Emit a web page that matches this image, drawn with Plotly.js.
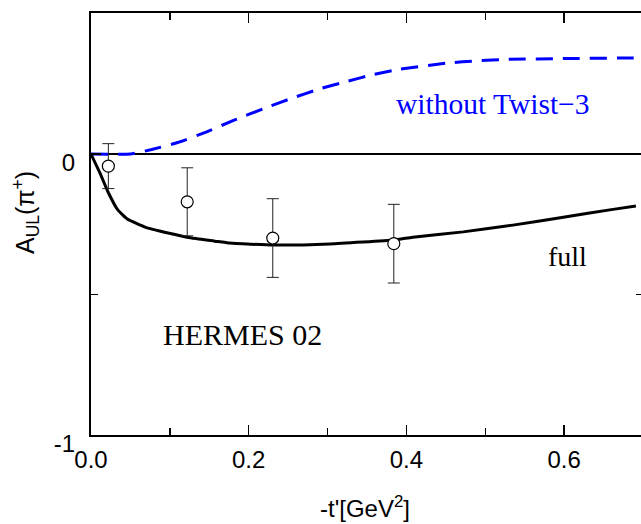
<!DOCTYPE html>
<html>
<head>
<meta charset="utf-8">
<script src="https://cdn.plot.ly/plotly-3.0.1.min.js"></script>
<style>html,body{margin:0;padding:0;overflow:hidden;background:#fff;}</style>
</head>
<body>
<div id="chart"></div>
<script>
// Curve "without Twist-3" (blue dashed)
const twistX = [0, 0.05, 0.077, 0.110, 0.145, 0.180, 0.223, 0.256, 0.290, 0.325, 0.358, 0.392, 0.452, 0.490, 0.528, 0.604, 0.688, 0.70];
const twistY = [0, 0, 0.016, 0.041, 0.077, 0.119, 0.166, 0.200, 0.232, 0.259, 0.283, 0.302, 0.324, 0.332, 0.337, 0.340, 0.342, 0.342];
// Curve "full" (black solid)
const fullX = [0, 0.0114, 0.0216, 0.034, 0.046, 0.0685, 0.0977, 0.128, 0.157, 0.176, 0.231, 0.303, 0.384, 0.408, 0.472, 0.535, 0.599, 0.662, 0.691];
const fullY = [0, -0.068, -0.135, -0.199, -0.231, -0.260, -0.281, -0.299, -0.310, -0.317, -0.324, -0.320, -0.306, -0.296, -0.277, -0.253, -0.225, -0.197, -0.185];
// HERMES 02 data
const hermesX = [0.022, 0.122, 0.2305, 0.384];
const hermesY = [-0.043, -0.170, -0.299, -0.319];
const hermesErr = [0.08, 0.121, 0.14, 0.14];
// Tick labels
const xTickVals = [0, 0.2, 0.4, 0.6];
const xTickText = ['0.0', '0.2', '0.4', '0.6'];
const yTickVals = [-1, 0];
const yTickText = ['-1', '0'];

const traces = [
  {x: twistX, y: twistY, mode: 'lines', line: {color: '#0000ff', width: 3, dash: '17px,10px', shape: 'spline', smoothing: 0.4}, hoverinfo: 'skip'},
  {x: fullX, y: fullY, mode: 'lines', line: {color: '#000', width: 3, shape: 'spline', smoothing: 0.4}, hoverinfo: 'skip'},
  {x: hermesX, y: hermesY, mode: 'markers',
   marker: {symbol: 'circle', size: 12, color: '#fff', line: {color: '#000', width: 1.2}},
   error_y: {type: 'data', array: hermesErr, visible: true, color: '#222', thickness: 1, width: 6}}
];

const serif = 'Liberation Serif, Times New Roman, serif';
const sans = 'Liberation Sans, Arial, Helvetica, sans-serif';

const layout = {
  width: 645, height: 524,
  margin: {l: 91, r: 2, t: 13, b: 89},
  paper_bgcolor: '#fff', plot_bgcolor: '#fff',
  showlegend: false,
  font: {family: sans, color: '#000'},
  xaxis: {
    range: [0, 0.7], showgrid: false, zeroline: false,
    showline: true, linecolor: '#000', linewidth: 2, mirror: 'ticks',
    ticks: 'inside', ticklen: 10, tickwidth: 1.5, tickcolor: '#000',
    tickvals: xTickVals, ticktext: xTickText,
    tickfont: {family: sans, size: 24, color: '#000'},
    ticklabelstandoff: 2,
    minor: {dtick: 0.1, ticks: 'inside', ticklen: 7, tickwidth: 1.5, tickcolor: '#000', showgrid: false}
  },
  yaxis: {
    range: [-1, 0.502], showgrid: false,
    zeroline: true, zerolinecolor: '#000', zerolinewidth: 1.5,
    showline: true, linecolor: '#000', linewidth: 2, mirror: 'ticks',
    ticks: 'inside', ticklen: 10, tickwidth: 1.5, tickcolor: '#000',
    tickvals: yTickVals, ticktext: yTickText,
    tickfont: {family: sans, size: 24, color: '#000'},
    ticklabelstandoff: 9,
    ticklabelshift: 9,
    minor: {dtick: 0.5, ticks: 'inside', ticklen: 7, tickwidth: 1.5, tickcolor: '#000', showgrid: false}
  },
  annotations: [
    {text: 'without Twist\u22123', x: 0.51, y: 0.178, xref: 'x', yref: 'y', showarrow: false,
     font: {family: serif, size: 29.5, color: '#0000ff'}, xanchor: 'center', yanchor: 'middle'},
    {text: 'full', x: 0.604, y: -0.363, xref: 'x', yref: 'y', showarrow: false,
     font: {family: serif, size: 28, color: '#000'}, xanchor: 'center', yanchor: 'middle'},
    {text: 'HERMES 02', x: 0.1915, y: -0.644, xref: 'x', yref: 'y', showarrow: false,
     font: {family: serif, size: 30, color: '#000'}, xanchor: 'center', yanchor: 'middle'},
    {text: 'A<sub>UL</sub>(\u03c0<sup>+</sup>)', x: -0.118, y: 0.528, xref: 'paper', yref: 'paper', showarrow: false,
     textangle: -90, font: {family: sans, size: 25, color: '#000'}, xanchor: 'center', yanchor: 'middle'},
    {text: '-t\'[GeV<sup>2</sup>]', x: 0.496, y: -0.17, xref: 'paper', yref: 'paper', showarrow: false,
     font: {family: sans, size: 24, color: '#000'}, xanchor: 'center', yanchor: 'middle'}
  ]
};

Plotly.newPlot('chart', traces, layout, {displayModeBar: false, staticPlot: true});
</script>
</body>
</html>
